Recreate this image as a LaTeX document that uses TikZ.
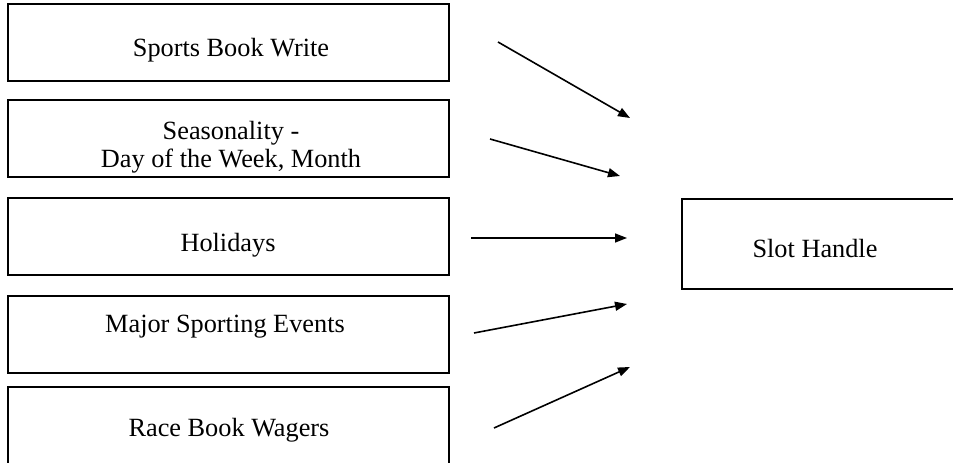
\documentclass[tikz,border=0pt]{standalone}
\usepackage{fontspec}
\setmainfont{Liberation Serif}
\usetikzlibrary{arrows.meta}
\begin{document}
\begin{tikzpicture}[x=1pt,y=1pt,
  inbox/.style={draw=black,line width=2pt,rectangle,inner sep=0pt,minimum width=441pt,minimum height=77pt},
  outbox/.style={draw=black,line width=2pt,rectangle,inner sep=0pt,minimum width=280pt,minimum height=90pt},
  lbl/.style={font=\fontsize{26.3}{28}\selectfont,inner sep=0pt,anchor=base,align=center},
  arr/.style={line width=1.6pt,-{Triangle[length=12pt,width=9pt]}}]
\useasboundingbox (0,0) rectangle (953,463);
\fill[white] (0,0) rectangle (953,463);
% boxes
\node[inbox] (b1) at (228.5,420.5) {};
\node[inbox] (b2) at (228.5,324.5) {};
\node[inbox] (b3) at (228.5,226) {};
\node[inbox] (b4) at (228.5,128.5) {};
\node[inbox] (b5) at (228.5,37.5) {};
\node[outbox] (out) at (822,219) {};
% texts
\node[lbl] (t1) at (231,406) {Sports Book Write};
\node[lbl] (t2) at (231,295) {Seasonality -\\Day of the Week, Month};
\node[lbl] (t3) at (228,211) {Holidays};
\node[lbl] (t4) at (225,130) {Major Sporting Events};
\node[lbl] (t5) at (229,26) {Race Book Wagers};
\node[lbl] (t6) at (815,205) {Slot Handle};
% arrow ends
\coordinate (s1) at (498,421); \coordinate (e1) at (630,345);
\coordinate (s2) at (490,324); \coordinate (e2) at (620,287);
\coordinate (s3) at (471,225); \coordinate (e3) at (627,225);
\coordinate (s4) at (474,130); \coordinate (e4) at (627,159);
\coordinate (s5) at (494,35);  \coordinate (e5) at (630,96);
\draw[arr] (s1) -- (e1);
\draw[arr] (s2) -- (e2);
\draw[arr] (s3) -- (e3);
\draw[arr] (s4) -- (e4);
\draw[arr] (s5) -- (e5);
\end{tikzpicture}
\end{document}
